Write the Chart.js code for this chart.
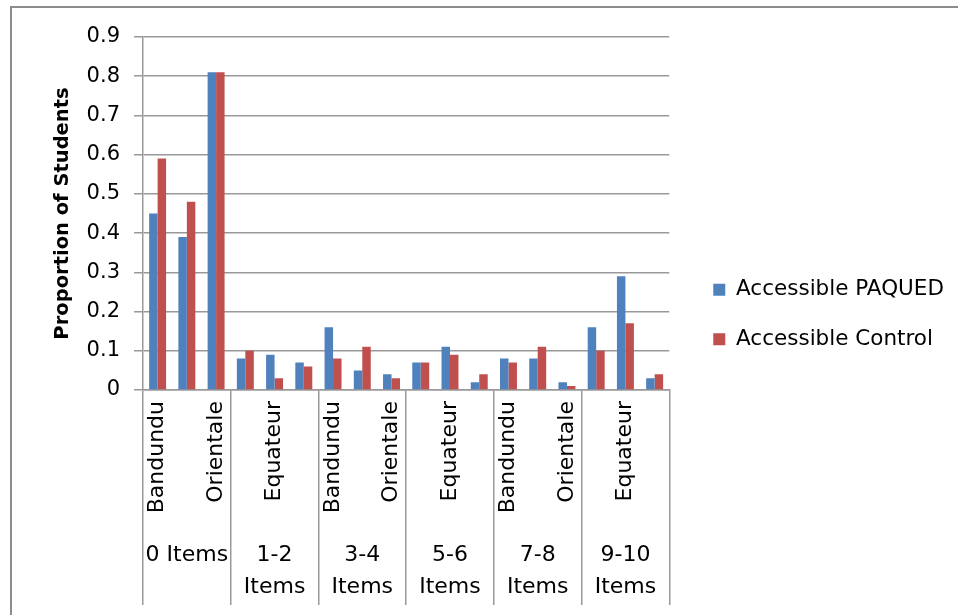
<!DOCTYPE html>
<html><head><meta charset="utf-8">
<script src="https://cdn.jsdelivr.net/npm/chart.js@4.4.0/dist/chart.umd.min.js"></script>
<style>
html,body{margin:0;padding:0;background:#fff;overflow:hidden;}
canvas{display:block;}
</style></head><body>
<canvas id="c" width="958" height="615"></canvas>
<script>
const subLabels = ['Bandundu','Equateur','Orientale','Bandundu','Equateur','Orientale','Bandundu','Equateur','Orientale',
                   'Bandundu','Equateur','Orientale','Bandundu','Equateur','Orientale','Bandundu','Equateur','Orientale'];
const groupLabels = ['0 Items', ['1-2','Items'], ['3-4','Items'], ['5-6','Items'], ['7-8','Items'], ['9-10','Items']];
const paqued  = [0.45,0.39,0.81, 0.08,0.09,0.07, 0.16,0.05,0.04, 0.07,0.11,0.02, 0.08,0.08,0.02, 0.16,0.29,0.03];
const control = [0.59,0.48,0.81, 0.10,0.03,0.06, 0.08,0.11,0.03, 0.07,0.09,0.04, 0.07,0.11,0.01, 0.10,0.17,0.04];
const yTickLabels = ['0','0.1','0.2','0.3','0.4','0.5','0.6','0.7','0.8','0.9'];
const seriesNames = ['Accessible PAQUED','Accessible Control'];

const FONT = 'DejaVu Sans';
const GRID = '#999999';
Chart.defaults.font.family = FONT;
Chart.defaults.color = '#000';

const framePlugin = {
  id: 'frame',
  beforeDraw(chart) {
    const ctx = chart.ctx;
    ctx.save();
    ctx.strokeStyle = '#8c8c8c';
    ctx.lineWidth = 2;
    ctx.beginPath();
    ctx.moveTo(11, chart.height);
    ctx.lineTo(11, 7);
    ctx.lineTo(chart.width, 7);
    ctx.stroke();
    ctx.restore();
  }
};

new Chart(document.getElementById('c'), {
  type: 'bar',
  data: {
    labels: subLabels,
    datasets: [
      {label: seriesNames[0], data: paqued, backgroundColor: '#4F81BD', barPercentage: 1, categoryPercentage: 0.58},
      {label: seriesNames[1], data: control, backgroundColor: '#C0504D', barPercentage: 1, categoryPercentage: 0.58}
    ]
  },
  plugins: [framePlugin],
  options: {
    responsive: false,
    animation: false,
    devicePixelRatio: 1,
    layout: {padding: {left: 51, top: 37, right: 4, bottom: 8}},
    plugins: {
      tooltip: {enabled: false},
      legend: {
        position: 'right', align: 'start', maxWidth: 400,
        title: {display: true, text: '', padding: {top: 202, bottom: 0}, font: {size: 10}},
        labels: {boxWidth: 12, boxHeight: 12, padding: 28, color: '#000', font: {family: FONT, size: 21.5}}
      }
    },
    scales: {
      y: {
        min: 0, max: 0.9,
        ticks: {stepSize: 0.1, padding: 14, color: '#000', font: {family: FONT, size: 21},
                callback: (v, i) => yTickLabels[i]},
        grid: {color: GRID, lineWidth: 1.5, tickLength: 9},
        border: {display: true, color: GRID, width: 1.5},
        title: {display: true, text: 'Proportion of Students', color: '#000', padding: 0,
                font: {family: FONT, size: 19.5, weight: 'bold'}},
        afterFit: s => { s.width = 92; }
      },
      pad: {
        type: 'linear', position: 'right', display: true,
        grid: {display: false, drawTicks: false}, border: {display: false}, ticks: {display: false},
        afterFit: s => { s.width = 16; }
      },
      x: {
        type: 'category', offset: true, weight: 0,
        ticks: {autoSkip: false, minRotation: 90, maxRotation: 90, padding: -204, color: '#000',
                font: {family: FONT, size: 22},
                callback: (v, i) => (i % 2 === 0 ? subLabels[i] : '')},
        grid: {offset: true, drawOnChartArea: false, tickLength: 215, lineWidth: 1.5,
               color: ctx => (ctx.index === undefined || ctx.index % 3 === 0) ? GRID : 'rgba(0,0,0,0)'},
        border: {display: true, color: GRID, width: 1.5},
        afterFit: s => { s.height = 145; }
      },
      x2: {
        type: 'category', labels: groupLabels, offset: true, position: 'bottom', weight: 1,
        grid: {display: false, drawTicks: false}, border: {display: false},
        ticks: {autoSkip: false, minRotation: 0, maxRotation: 0, padding: 4, color: '#000',
                font: {family: FONT, size: 22, lineHeight: 1.4545}},
        afterFit: s => { s.height = 72; }
      }
    }
  }
});
</script>
</body></html>
